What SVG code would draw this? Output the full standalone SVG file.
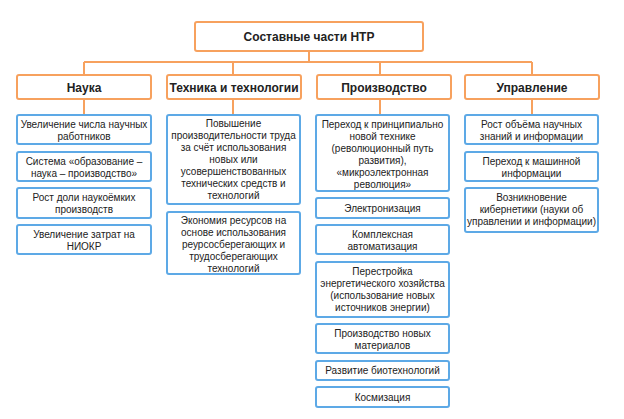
<svg xmlns="http://www.w3.org/2000/svg" width="624" height="419" viewBox="0 0 624 419">
<style>
.o{fill:#fff;stroke:#F7A15E;stroke-width:2}
.b{fill:#fff;stroke:#5DA9E6;stroke-width:2}
.c{fill:none;stroke:#F7A15E;stroke-width:2}
text{font-family:"Liberation Sans",Arial,sans-serif;fill:#222;text-anchor:middle}
.h{font-size:12px;font-weight:bold}
.t{font-size:10px}
</style>
<rect width="624" height="419" fill="#fff"/>
<g id="connectors">
<path class="c" d="M309 51V62M84 62H532M84 62V75M233 62V75M380 62V75M532 62V75M84 99V115M233 99V115M380 99V115M532 99V115"/>
</g>
<g id="root"><rect class="o" x="195" y="22" width="228" height="29" rx="2"/><text class="h" x="309" y="40.5">Составные части НТР</text></g>
<g id="nauka"><rect class="o" x="17" y="75" width="134" height="24" rx="2"/><text class="h" x="84" y="91.5">Наука</text></g>
<g id="tech"><rect class="o" x="167" y="75" width="134" height="24" rx="2"/><text class="h" x="234" y="91.5">Техника и технологии</text></g>
<g id="proizv"><rect class="o" x="317" y="75" width="134" height="24" rx="2"/><text class="h" x="384" y="91.5">Производство</text></g>
<g id="upr"><rect class="o" x="465" y="75" width="134" height="24" rx="2"/><text class="h" x="532" y="91.5">Управление</text></g>

<g id="n1"><rect class="b" x="17" y="115" width="134" height="29" rx="2"/><text class="t" x="84" y="127.5">Увеличение числа научных</text><text class="t" x="84" y="139.5">работников</text></g>
<g id="n2"><rect class="b" x="17" y="152" width="134" height="29" rx="2"/><text class="t" x="84" y="164.5">Система «образование –</text><text class="t" x="84" y="176.5">наука – производство»</text></g>
<g id="n3"><rect class="b" x="17" y="188" width="134" height="30" rx="2"/><text class="t" x="84" y="201">Рост доли наукоёмких</text><text class="t" x="84" y="213">производств</text></g>
<g id="n4"><rect class="b" x="17" y="225" width="134" height="29" rx="2"/><text class="t" x="84" y="237.5">Увеличение затрат на</text><text class="t" x="84" y="249.5">НИОКР</text></g>

<g id="t1"><rect class="b" x="167" y="115" width="133" height="89" rx="2"/>
<text class="t" x="233.5" y="127.3">Повышение</text>
<text class="t" x="233.5" y="139.3">производительности труда</text>
<text class="t" x="233.5" y="151.3">за счёт использования</text>
<text class="t" x="233.5" y="163.3">новых или</text>
<text class="t" x="233.5" y="175.3">усовершенствованных</text>
<text class="t" x="233.5" y="187.3">технических средств и</text>
<text class="t" x="233.5" y="199.3">технологий</text></g>
<g id="t2"><rect class="b" x="167" y="212" width="133" height="62" rx="2"/>
<text class="t" x="233.5" y="223.6">Экономия ресурсов на</text>
<text class="t" x="233.5" y="235.6">основе использования</text>
<text class="t" x="233.5" y="247.6">реурсосберегающих и</text>
<text class="t" x="233.5" y="259.6">трудосберегающих</text>
<text class="t" x="233.5" y="271.6">технологий</text></g>

<g id="p1"><rect class="b" x="316" y="115" width="133" height="76" rx="2"/>
<text class="t" x="382.5" y="127.5">Переход к принципиально</text>
<text class="t" x="382.5" y="139.5">новой технике</text>
<text class="t" x="382.5" y="151.5">(революционный путь</text>
<text class="t" x="382.5" y="163.5">развития),</text>
<text class="t" x="382.5" y="175.5">«микроэлектронная</text>
<text class="t" x="382.5" y="187.5">революция»</text></g>
<g id="p2"><rect class="b" x="316" y="198" width="133" height="20" rx="2"/><text class="t" x="382.5" y="211.5">Электронизация</text></g>
<g id="p3"><rect class="b" x="316" y="225" width="133" height="29" rx="2"/><text class="t" x="382.5" y="237.5">Комплексная</text><text class="t" x="382.5" y="249.5">автоматизация</text></g>
<g id="p4"><rect class="b" x="316" y="262" width="133" height="55" rx="2"/>
<text class="t" x="382.5" y="275">Перестройка</text>
<text class="t" x="382.5" y="287">энергетического хозяйства</text>
<text class="t" x="382.5" y="299">(использование новых</text>
<text class="t" x="382.5" y="311">источников энергии)</text></g>
<g id="p5"><rect class="b" x="316" y="324" width="133" height="29" rx="2"/><text class="t" x="382.5" y="336.5">Производство новых</text><text class="t" x="382.5" y="348.5">материалов</text></g>
<g id="p6"><rect class="b" x="316" y="361" width="133" height="19" rx="2"/><text class="t" x="382.5" y="374">Развитие биотехнологий</text></g>
<g id="p7"><rect class="b" x="316" y="387" width="133" height="20" rx="2"/><text class="t" x="382.5" y="400.5">Космизация</text></g>

<g id="u1"><rect class="b" x="465" y="115" width="133" height="29" rx="2"/><text class="t" x="531.5" y="127.5">Рост объёма научных</text><text class="t" x="531.5" y="139.5">знаний и информации</text></g>
<g id="u2"><rect class="b" x="465" y="152" width="133" height="29" rx="2"/><text class="t" x="531.5" y="164.5">Переход к машинной</text><text class="t" x="531.5" y="176.5">информации</text></g>
<g id="u3"><rect class="b" x="465" y="188" width="133" height="44" rx="2"/>
<text class="t" x="531.5" y="201">Возникновение</text>
<text class="t" x="531.5" y="213">кибернетики (науки об</text>
<text class="t" x="531.5" y="225">управлении и информации)</text></g>
</svg>
